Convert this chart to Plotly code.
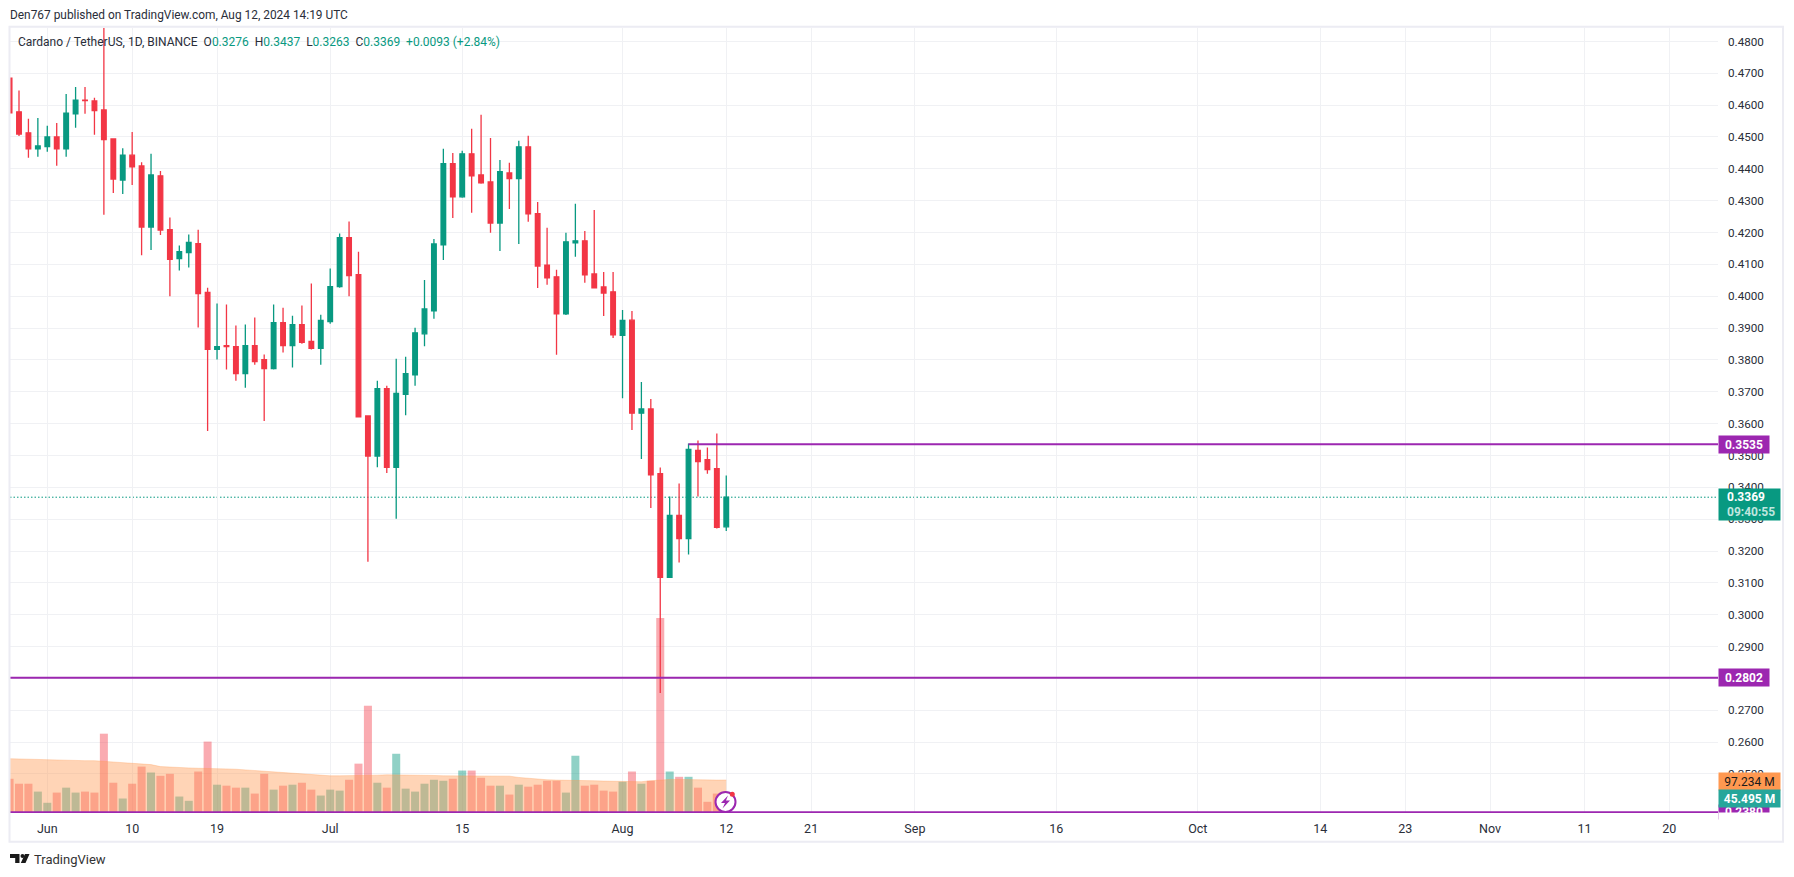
import pandas as pd
import plotly.graph_objects as go

# ---- data ----
dates = [d.strftime("%Y-%m-%d") for d in pd.date_range("2024-05-28", "2024-08-12")]
opens = [.4685,.4579,.4513,.4463,.4470,.4500,.4463,.4573,.4616,.4613,.4585,.4494,.4365,.4443,.4409,.4217,.4378,.4209,
         .4118,.4137,.4165,.4012,.3833,.3845,.3842,.3757,.3845,.3801,.3773,.3917,.3845,.3911,.3858,.3836,.3920,.4030,
         .4184,.4068,.3624,.3498,.3710,.3463,.3692,.3753,.3882,.3954,.4161,.4416,.4312,.4447,.4381,.4359,.4230,.4387,
         .4369,.4469,.4259,.4098,.4061,.3945,.4168,.4174,.4070,.4029,.4014,.3877,.3925,.3633,.3646,.3443,.3117,.3312,
         .3239,.3516,.3487,.3459,.3276]
highs = [.4685,.4646,.4557,.4560,.4535,.4544,.4635,.4657,.4657,.4623,.4875,.4494,.4465,.4516,.4421,.4447,.4393,.4247,
         .4159,.4194,.4209,.4027,.3977,.3974,.3908,.3911,.3933,.3817,.3974,.3964,.3939,.3971,.4040,.3942,.4087,.4197,
         .4235,.4140,.3624,.3735,.3719,.3804,.3810,.3901,.4051,.4180,.4463,.4450,.4457,.4526,.4570,.4497,.4428,.4419,
         .4488,.4504,.4296,.4215,.4083,.4199,.4290,.4205,.4271,.4076,.4076,.3957,.3954,.3731,.3677,.3462,.3371,.3412,
         .3538,.3547,.3525,.3569,.3437]
lows = [.4576,.4503,.4435,.4438,.4454,.4410,.4438,.4529,.4573,.4507,.4256,.4324,.4321,.4349,.4129,.4145,.4192,.4000,
        .4081,.4090,.3902,.3577,.3801,.3770,.3735,.3713,.3785,.3608,.3770,.3823,.3776,.3851,.3833,.3785,.3914,.4027,
        .4000,.3621,.3166,.3463,.3445,.3301,.3626,.3719,.3843,.3929,.4114,.4246,.4309,.4262,.4353,.4199,.4142,.4274,
        .4164,.4234,.4026,.4036,.3816,.3941,.4124,.4042,.4026,.3938,.3869,.3680,.3580,.3489,.3335,.2754,.3115,.3164,
        .3189,.3371,.3443,.3271,.3263]
closes = [.4576,.4509,.4463,.4472,.4500,.4463,.4575,.4616,.4614,.4583,.4492,.4368,.4443,.4406,.4217,.4381,.4208,.4116,
          .4140,.4169,.4008,.3833,.3842,.3842,.3757,.3845,.3795,.3773,.3917,.3845,.3911,.3855,.3836,.3924,.4030,.4184,
          .4065,.3621,.3498,.3710,.3463,.3695,.3757,.3885,.3960,.4164,.4416,.4312,.4447,.4378,.4356,.4230,.4391,.4369,
          .4469,.4259,.4095,.4058,.3945,.4171,.4174,.4067,.4026,.4010,.3879,.3924,.3633,.3646,.3439,.3117,.3312,.3239,
          .3519,.3481,.3456,.3274,.3369]
volumes = [101,86,86,62,28,59,74,59,62,59,238,89,41,86,138,120,110,116,47,34,123,214,83,80,74,74,56,116,68,80,83,89,
           68,50,68,65,98,147,323,89,74,177,71,62,86,98,95,101,126,126,104,80,80,53,83,77,83,95,95,59,171,80,83,65,62,
           92,123,86,95,590,123,107,107,74,31,56,45.495]
volume_ma = [162,161,160,159,159,158,157,157,156,156,154,151,149,147,146,144,138,136,135,134,133,133,132,131,130,128,
             125,122,121,120,118,115,113,111,110,110,110,110,111,112,113,113,113,113,112,111,110,110,110,110,110,110,
             110,109,105,102,99,98,97,97,96,95,95,94,93,92,92,92,95,98,99,99,98,98,98,97,97.234]
price_ticks = [.48,.47,.46,.45,.44,.43,.42,.41,.40,.39,.38,.37,.36,.35,.34,.33,.32,.31,.30,.29,.28,.27,.26,.25]
date_ticks = ["2024-06-01","2024-06-10","2024-06-19","2024-07-01","2024-07-15","2024-08-01","2024-08-12",
              "2024-08-21","2024-09-01","2024-09-16","2024-10-01","2024-10-14","2024-10-23","2024-11-01",
              "2024-11-11","2024-11-20"]
date_labels = ["Jun","10","19","Jul","15","Aug","12","21","Sep","16","Oct","14","23","Nov","11","20"]
level_resistance = 0.3535
level_support = 0.2802
level_bottom = 0.2380
level_start = "2024-08-08"

# ---- styles / geometry ----
RED, GREEN, PURPLE = "#F23645", "#089981", "#9C27B0"
TEXT = "#2a2e39"
GRID = "#F0F1F4"
FONT = "Roboto, sans-serif"
W, H = 1794, 877
L, R, T, B = 10, 1718, 28, 813
X0, X1 = "2024-05-28 01:05", "2024-11-25 04:00"
def fx(px): return (px - L) / (R - L)
def fy(py): return (B - py) / (B - T)

vol_colors = ["rgba(8,153,129,0.45)" if c >= o else "rgba(242,54,69,0.42)" for o, c in zip(opens, closes)]

fig = go.Figure()
fig.add_trace(go.Bar(x=dates, y=volumes, marker=dict(color=vol_colors, line_width=0), yaxis="y2", hoverinfo="skip"))
fig.add_trace(go.Scatter(x=dates, y=volume_ma, yaxis="y2", mode="lines", fill="tozeroy",
                         line=dict(color="rgba(255,152,80,0.30)", width=1),
                         fillcolor="rgba(255,152,80,0.42)", hoverinfo="skip"))
fig.add_trace(go.Candlestick(x=dates, open=opens, high=highs, low=lows, close=closes, yaxis="y",
                             increasing=dict(line=dict(color=GREEN, width=1.3), fillcolor=GREEN),
                             decreasing=dict(line=dict(color=RED, width=1.3), fillcolor=RED),
                             whiskerwidth=0))
for xs, lvl in (([level_start, X1], level_resistance), ([X0, X1], level_support), ([X0, X1], level_bottom)):
    fig.add_trace(go.Scatter(x=xs, y=[lvl, lvl], mode="lines", line=dict(color=PURPLE, width=2), hoverinfo="skip", yaxis="y"))

def tag(y, text, bg, width=50, height=17, color="white", bold=True, yref="y", size=12):
    return dict(xref="paper", yref=yref, x=1, y=y, xanchor="left", yanchor="middle", showarrow=False,
                text=f"<b>{text}</b>" if bold else text, bgcolor=bg, width=width, height=height, borderpad=0,
                font=dict(family=FONT, size=size, color=color))

def label(px, py, text, size=12, color=TEXT):
    return dict(xref="paper", yref="paper", x=fx(px), y=fy(py), xanchor="left", yanchor="middle", showarrow=False,
                text=text, borderpad=0, font=dict(family=FONT, size=size, color=color))

annotations = [
    label(9, 15, "Den767 published on TradingView.com, Aug 12, 2024 14:19 UTC", size=11.9),
    label(17, 41.5, ("Cardano / TetherUS, 1D, BINANCE&nbsp;&nbsp;"
               f"O<span style='color:{GREEN}'>0.3276</span>&nbsp;&nbsp;H<span style='color:{GREEN}'>0.3437</span>&nbsp;&nbsp;"
               f"L<span style='color:{GREEN}'>0.3263</span>&nbsp;&nbsp;C<span style='color:{GREEN}'>0.3369</span>&nbsp;&nbsp;"
               f"<span style='color:{GREEN}'>+0.0093 (+2.84%)</span>")),
    tag(level_resistance, "0.3535", PURPLE),
    tag(level_support, "0.2802", PURPLE),
    tag(level_bottom, "0.2380", PURPLE, height=14),
    dict(xref="paper", yref="paper", x=1, y=fy(820.5), xanchor="left", yanchor="middle", showarrow=False, text=" ",
         bgcolor="white", width=55, height=15, borderpad=0),
    tag(fy(781.5), "97.234 M", "#FF9850", width=61, height=17, color="#1a1a1a", bold=False, yref="paper"),
    tag(fy(798.5), "45.495 M", "#26A69A", width=61, height=17, yref="paper"),
    dict(xref="paper", yref="paper", x=1, y=fy(504.5), xanchor="left", yanchor="middle", showarrow=False, text=" ",
         bgcolor=GREEN, width=61, height=31, borderpad=0),
    label(1726, 497, "<b>0.3369</b>", color="white"),
    label(1726, 511.5, "<b>09:40:55</b>", color="#BFE6DF"),
    label(33, 859, "TradingView", size=13, color="#333333"),
]

def P(*pts):
    return "M " + " L ".join(f"{fx(a):.5f},{fy(b):.5f}" for a, b in pts) + " Z"

shapes = [
    dict(type="line", layer="below", xref="paper", yref="y", x0=0, x1=1, y0=closes[-1], y1=closes[-1],
         line=dict(color=GREEN, width=1, dash="1.5px,2px")),
    # outer frame of the snapshot
    dict(type="rect", layer="above", xref="paper", yref="paper", x0=fx(9.5), x1=fx(1783), y0=fy(841.7), y1=fy(26.7),
         line=dict(color="#ECECF3", width=2), fillcolor="rgba(0,0,0,0)"),
    # TradingView logo
    dict(type="path", xref="paper", yref="paper", path=P((10,854),(19.5,854),(19.5,863),(15.2,863),(15.2,858),(10,858)),
         fillcolor="#1a1a1a", line_width=0),
    dict(type="circle", xref="paper", yref="paper", x0=fx(20.5), x1=fx(24.5), y0=fy(858), y1=fy(854), fillcolor="#1a1a1a", line_width=0),
    dict(type="path", xref="paper", yref="paper", path=P((29.5,854),(25.5,863),(20.8,863),(25,854)), fillcolor="#1a1a1a", line_width=0),
    # lightning badge
    dict(type="circle", xref="paper", yref="paper", x0=fx(715.5), x1=fx(735.5), y0=fy(812), y1=fy(792),
         fillcolor="white", line=dict(color=PURPLE, width=2)),
    dict(type="path", xref="paper", yref="paper", path=P((728,795.5),(721,803),(725,803),(722.5,808.5),(730,800.5),(726,800.5)),
         fillcolor=PURPLE, line_width=0),
    dict(type="circle", xref="paper", yref="paper", x0=fx(729.8), x1=fx(734.8), y0=fy(796.8), y1=fy(791.8), fillcolor=RED, line_width=0),
]

fig.update_layout(
    width=W, height=H, margin=dict(l=L, r=W - R, t=T, b=H - B, pad=0, autoexpand=False),
    paper_bgcolor="white", plot_bgcolor="white", showlegend=False, bargap=0.15, boxgap=0.3,
    font=dict(family=FONT, size=12, color=TEXT),
    xaxis=dict(type="date", range=[X0, X1], tickmode="array", tickvals=date_ticks, ticktext=date_labels,
               showgrid=True, gridcolor=GRID, gridwidth=1, zeroline=False, showline=False, ticks="",
               rangeslider=dict(visible=False), tickfont=dict(family=FONT, size=12.5, color=TEXT), ticklabelstandoff=6),
    yaxis=dict(side="right", overlaying="y2", range=[0.23775, 0.48422], tickmode="array", tickvals=price_ticks,
               tickformat=".4f", showgrid=True, gridcolor=GRID, gridwidth=1, zeroline=False, showline=False, ticks="",
               tickfont=dict(family=FONT, size=11.7, color=TEXT), ticklabelstandoff=9),
    yaxis2=dict(range=[-3.04, 2383], visible=False, showgrid=False, zeroline=False),
    annotations=annotations, shapes=shapes,
)

fig.write_html("out.html", config={"displayModeBar": False},
               post_script="document.body.style.margin='0';document.body.style.overflow='hidden';")
